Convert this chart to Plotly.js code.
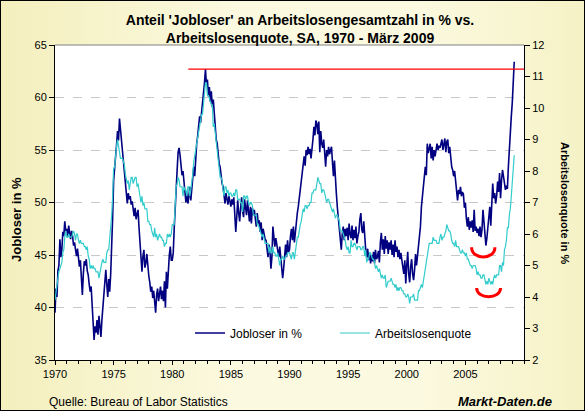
<!DOCTYPE html>
<html>
<head>
<meta charset="utf-8">
<script src="https://cdn.plot.ly/plotly-3.0.1.min.js"></script>
<style>
  html, body { margin: 0; padding: 0; background: #fff; }
  #wrap { position: relative; width: 585px; height: 411px;
          background: linear-gradient(90deg, #f4efbd 0%, #fbf9df 40%, #fbf9df 72%, #f6f2c6 100%); }
  #chart { position: absolute; left: 0; top: 0; width: 585px; height: 411px; }
  #frame { position: absolute; left: 0; top: 0; width: 585px; height: 411px;
           box-sizing: border-box; border: 1px solid #000; pointer-events: none; }
</style>
</head>
<body>
<div id="wrap"><div id="chart"></div><div id="frame"></div></div>
<script>
// Monthly series, January 1970 to March 2009 (seasonally adjusted)
const startYear = 1970;

// Share of job losers among all unemployed, in %
const jobloserPct = [
  39.5, 41.8, 41.0, 43.5, 44.0, 46.5, 44.8, 45.5, 47.2, 46.8, 48.2, 47.3, // 1970
  47.5, 46.7, 47.8, 47.0, 46.5, 47.3, 46.8, 45.9, 46.2, 45.5, 44.9, 45.6, // 1971
  44.8, 43.9, 44.5, 42.9, 41.2, 43.2, 44.4, 44.0, 44.6, 43.5, 43.1, 42.2, // 1972
  41.5, 42.0, 40.2, 39.2, 36.9, 38.2, 37.6, 38.8, 37.4, 39.2, 38.0, 37.2, // 1973
  38.8, 40.2, 41.2, 42.8, 43.6, 42.2, 41.0, 42.7, 41.5, 43.2, 45.5, 48.6, // 1974
  52.1, 53.6, 54.6, 55.5, 56.8, 55.9, 58.0, 57.0, 56.2, 55.6, 54.0, 52.9, // 1975
  52.0, 50.8, 49.9, 50.9, 50.3, 50.6, 49.8, 50.1, 49.2, 48.7, 49.5, 48.4, // 1976
  48.9, 49.3, 47.6, 46.2, 45.3, 43.4, 44.9, 45.5, 43.8, 44.2, 45.1, 43.6, // 1977
  43.0, 42.4, 41.5, 42.0, 40.9, 41.6, 40.8, 39.5, 41.2, 41.8, 40.6, 41.5, // 1978
  42.0, 40.8, 41.6, 40.6, 42.5, 40.0, 43.4, 41.8, 44.2, 45.0, 45.8, 44.5, // 1979
  44.5, 45.2, 47.5, 49.0, 51.2, 53.1, 54.8, 55.2, 54.5, 53.4, 52.6, 53.0, // 1980
  51.8, 50.8, 50.0, 51.0, 49.9, 50.6, 51.5, 50.2, 51.2, 52.2, 53.4, 52.5, // 1981
  54.4, 55.6, 56.3, 57.2, 58.2, 57.6, 58.4, 59.3, 60.2, 61.4, 62.7, 61.2, // 1982
  61.7, 60.1, 61.0, 59.6, 60.6, 59.1, 59.8, 58.2, 57.0, 56.0, 55.6, 54.2, // 1983
  53.7, 53.4, 52.2, 51.8, 51.5, 50.4, 49.9, 50.9, 50.2, 49.8, 50.6, 50.0, // 1984
  49.6, 50.3, 49.8, 50.5, 49.2, 47.2, 48.6, 50.2, 49.0, 48.2, 49.5, 50.5, // 1985
  49.2, 48.6, 50.3, 49.4, 48.8, 50.2, 49.0, 48.2, 49.6, 48.0, 49.5, 48.8, // 1986
  49.3, 48.4, 47.7, 49.0, 48.0, 48.3, 47.2, 48.1, 46.4, 47.5, 46.8, 46.5, // 1987
  46.4, 45.6, 44.8, 46.0, 45.3, 43.7, 44.8, 47.7, 46.3, 45.8, 46.6, 46.1, // 1988
  45.6, 44.8, 45.8, 44.9, 43.5, 42.8, 43.7, 45.2, 46.0, 44.8, 46.4, 45.3, // 1989
  45.5, 46.8, 47.5, 46.4, 47.7, 46.2, 47.4, 48.1, 49.0, 49.6, 50.4, 51.2, // 1990
  51.5, 52.5, 53.6, 54.4, 53.5, 55.0, 54.5, 55.3, 54.6, 55.1, 54.2, 55.6, // 1991
  56.0, 57.2, 56.4, 57.8, 57.5, 56.5, 57.7, 54.8, 56.8, 55.6, 55.2, 56.0, // 1992
  54.2, 53.4, 55.0, 54.4, 55.3, 54.6, 55.0, 55.3, 53.8, 52.5, 54.0, 51.8, // 1993
  50.8, 49.5, 48.3, 47.7, 46.2, 45.5, 47.0, 47.7, 46.4, 47.5, 46.8, 47.6, // 1994
  46.4, 48.0, 47.0, 46.6, 47.8, 46.4, 47.4, 46.6, 47.7, 46.1, 46.8, 47.2, // 1995
  48.4, 49.0, 47.4, 47.1, 48.2, 46.2, 45.5, 44.8, 45.6, 44.5, 45.2, 44.2, // 1996
  45.0, 44.4, 45.3, 44.2, 45.5, 44.6, 44.8, 45.4, 44.3, 46.2, 47.1, 45.5, // 1997
  46.5, 45.1, 46.8, 45.6, 46.4, 45.1, 46.2, 45.5, 46.4, 45.0, 46.0, 44.8, // 1998
  46.4, 45.3, 45.8, 44.8, 45.5, 44.6, 45.2, 44.5, 44.0, 43.2, 44.5, 42.3, // 1999
  44.0, 45.3, 43.2, 42.4, 43.9, 44.6, 43.2, 42.6, 43.6, 45.1, 44.0, 45.0, // 2000
  45.8, 46.8, 47.7, 49.6, 50.5, 51.2, 52.2, 53.4, 52.6, 55.6, 54.7, 55.3, // 2001
  55.6, 54.2, 55.3, 54.0, 55.0, 54.4, 55.3, 55.6, 55.0, 55.4, 55.2, 55.8, // 2002
  56.0, 55.0, 55.6, 56.1, 54.8, 55.8, 56.0, 54.7, 55.3, 54.0, 53.4, 53.1, // 2003
  52.5, 53.0, 52.1, 51.5, 50.2, 51.2, 50.8, 51.5, 50.6, 51.0, 50.8, 49.5, // 2004
  50.0, 48.5, 47.7, 48.6, 47.4, 48.2, 47.6, 48.3, 47.2, 49.3, 47.3, 47.7, // 2005
  47.1, 47.5, 46.8, 47.7, 46.7, 47.4, 49.3, 48.2, 47.0, 45.9, 46.6, 47.4, // 2006
  48.5, 49.6, 47.8, 50.0, 51.8, 50.4, 50.9, 49.9, 50.6, 52.0, 51.0, 52.8, // 2007
  50.4, 52.1, 53.1, 52.5, 51.8, 51.2, 51.6, 51.3, 53.4, 55.3, 56.5, 58.2, // 2008
  59.5, 61.2, 63.4                                                        // 2009
];

// Unemployment rate, in %
const arbeitslosenquote = [
  3.9, 4.2, 4.4, 4.6, 4.8, 4.9, 5.0, 5.1, 5.4, 5.5, 5.9, 6.1,   // 1970
  5.9, 5.9, 6.0, 5.9, 5.9, 5.9, 6.0, 6.1, 6.0, 5.8, 6.0, 6.0,   // 1971
  5.8, 5.7, 5.8, 5.7, 5.7, 5.7, 5.6, 5.6, 5.5, 5.6, 5.3, 5.2,   // 1972
  4.9, 5.0, 4.9, 5.0, 4.9, 4.9, 4.8, 4.8, 4.8, 4.6, 4.8, 4.9,   // 1973
  5.1, 5.2, 5.1, 5.1, 5.1, 5.4, 5.5, 5.5, 5.9, 6.0, 6.6, 7.2,   // 1974
  8.1, 8.1, 8.6, 8.8, 9.0, 8.8, 8.6, 8.4, 8.4, 8.4, 8.3, 8.2,   // 1975
  7.9, 7.7, 7.6, 7.7, 7.4, 7.6, 7.8, 7.8, 7.6, 7.7, 7.8, 7.8,   // 1976
  7.5, 7.6, 7.4, 7.2, 7.0, 7.2, 6.9, 7.0, 6.8, 6.8, 6.8, 6.4,   // 1977
  6.4, 6.3, 6.3, 6.1, 6.0, 5.9, 6.2, 5.9, 6.0, 5.8, 5.9, 6.0,   // 1978
  5.9, 5.9, 5.8, 5.8, 5.6, 5.7, 5.7, 6.0, 5.9, 6.0, 5.9, 6.0,   // 1979
  6.3, 6.3, 6.3, 6.9, 7.5, 7.6, 7.8, 7.7, 7.5, 7.5, 7.5, 7.2,   // 1980
  7.5, 7.4, 7.4, 7.2, 7.5, 7.5, 7.2, 7.4, 7.6, 7.9, 8.3, 8.5,   // 1981
  8.6, 8.9, 9.0, 9.3, 9.4, 9.6, 9.8, 9.8, 10.1, 10.4, 10.8, 10.8, // 1982
  10.4, 10.4, 10.3, 10.2, 10.1, 10.1, 9.4, 9.5, 9.2, 8.8, 8.5, 8.3, // 1983
  8.0, 7.8, 7.8, 7.7, 7.4, 7.2, 7.5, 7.5, 7.3, 7.4, 7.2, 7.3,   // 1984
  7.3, 7.2, 7.2, 7.3, 7.2, 7.4, 7.4, 7.1, 7.1, 7.1, 7.0, 7.0,   // 1985
  6.7, 7.2, 7.2, 7.1, 7.2, 7.2, 7.0, 6.9, 7.0, 7.0, 6.9, 6.6,   // 1986
  6.6, 6.6, 6.6, 6.3, 6.3, 6.2, 6.1, 6.0, 5.9, 6.0, 5.8, 5.7,   // 1987
  5.7, 5.7, 5.7, 5.4, 5.6, 5.4, 5.4, 5.6, 5.4, 5.4, 5.3, 5.3,   // 1988
  5.4, 5.2, 5.0, 5.2, 5.2, 5.3, 5.2, 5.2, 5.3, 5.3, 5.4, 5.4,   // 1989
  5.4, 5.3, 5.2, 5.4, 5.4, 5.2, 5.5, 5.7, 5.9, 5.9, 6.2, 6.3,   // 1990
  6.4, 6.6, 6.8, 6.7, 6.9, 6.9, 6.8, 6.9, 6.9, 7.0, 7.0, 7.3,   // 1991
  7.3, 7.4, 7.4, 7.4, 7.6, 7.8, 7.7, 7.6, 7.6, 7.3, 7.4, 7.4,   // 1992
  7.3, 7.1, 7.0, 7.1, 7.1, 7.0, 6.9, 6.8, 6.7, 6.8, 6.6, 6.5,   // 1993
  6.6, 6.6, 6.5, 6.4, 6.1, 6.1, 6.1, 6.0, 5.9, 5.8, 5.6, 5.5,   // 1994
  5.6, 5.4, 5.4, 5.8, 5.6, 5.6, 5.7, 5.7, 5.6, 5.5, 5.6, 5.6,   // 1995
  5.6, 5.5, 5.5, 5.6, 5.6, 5.3, 5.5, 5.1, 5.2, 5.2, 5.4, 5.4,   // 1996
  5.3, 5.2, 5.2, 5.1, 4.9, 5.0, 4.9, 4.8, 4.9, 4.7, 4.6, 4.7,   // 1997
  4.6, 4.6, 4.7, 4.3, 4.4, 4.5, 4.5, 4.5, 4.6, 4.5, 4.4, 4.4,   // 1998
  4.3, 4.4, 4.2, 4.3, 4.2, 4.3, 4.3, 4.2, 4.2, 4.1, 4.1, 4.0,   // 1999
  4.0, 4.1, 4.0, 3.8, 4.0, 4.0, 4.0, 4.1, 3.9, 3.9, 3.9, 3.9,   // 2000
  4.2, 4.2, 4.3, 4.4, 4.3, 4.5, 4.6, 4.9, 5.0, 5.3, 5.5, 5.7,   // 2001
  5.7, 5.7, 5.7, 5.9, 5.8, 5.8, 5.8, 5.7, 5.7, 5.7, 5.9, 6.0,   // 2002
  5.8, 5.9, 5.9, 6.0, 6.1, 6.3, 6.2, 6.1, 6.1, 6.0, 5.8, 5.7,   // 2003
  5.7, 5.6, 5.8, 5.6, 5.6, 5.6, 5.5, 5.4, 5.4, 5.5, 5.4, 5.4,   // 2004
  5.3, 5.4, 5.2, 5.2, 5.1, 5.0, 5.0, 4.9, 5.0, 5.0, 5.0, 4.9,   // 2005
  4.7, 4.8, 4.7, 4.7, 4.6, 4.6, 4.7, 4.7, 4.5, 4.4, 4.5, 4.4,   // 2006
  4.6, 4.5, 4.4, 4.5, 4.4, 4.6, 4.7, 4.6, 4.7, 4.7, 4.7, 5.0,   // 2007
  5.0, 4.8, 5.1, 5.0, 5.5, 5.6, 5.8, 6.2, 6.2, 6.6, 6.8, 7.2,   // 2008
  7.6, 8.1, 8.5                                                 // 2009
];

// Axis tick labels
const xTickYears = [1970, 1975, 1980, 1985, 1990, 1995, 2000, 2005];
const seriesNames = ['Jobloser in %', 'Arbeitslosenquote'];

// Month positions on a decimal-year axis
const months = jobloserPct.map((_, i) => startYear + i / 12);

// Reference level: the 1982 peak of the job-loser share, carried forward
const peakIdx = jobloserPct.indexOf(Math.max(...jobloserPct.slice(0, 14 * 12)));
const peakLevel = jobloserPct[peakIdx];

const FONT = 'Arial, "Liberation Sans", sans-serif';

const traces = [
  {
    x: months, y: jobloserPct, name: seriesNames[0], type: 'scatter', mode: 'lines',
    line: { color: '#000080', width: 1.6 }, yaxis: 'y', legend: 'legend',
    hoverinfo: 'skip'
  },
  {
    x: months, y: arbeitslosenquote, name: seriesNames[1], type: 'scatter', mode: 'lines',
    line: { color: '#33cccc', width: 1.2 }, yaxis: 'y2', legend: 'legend2',
    hoverinfo: 'skip'
  }
];

// Curved markers under the 2006/07 lows
function arc(x0, x1, yTop, yCtrl) {
  return `M${x0},${yTop} C${x0},${yCtrl} ${x1},${yCtrl} ${x1},${yTop}`;
}

const layout = {
  width: 585, height: 411,
  margin: { l: 55, r: 61, t: 45, b: 51 },
  paper_bgcolor: 'rgba(0,0,0,0)',
  plot_bgcolor: '#ffffff',
  showlegend: true,
  font: { family: FONT, size: 11, color: '#000' },
  title: {
    text: "<b>Anteil 'Jobloser' an Arbeitslosengesamtzahl in % vs.<br>Arbeitslosenquote, SA, 1970 - März 2009</b>",
    font: { family: FONT, size: 14, color: '#000' },
    x: 300 / 585, xanchor: 'center', xref: 'container',
    y: 1 - 25 / 411, yanchor: 'middle', yref: 'container'
  },
  xaxis: {
    range: [1970, 2010], tickvals: xTickYears, ticktext: xTickYears.map(String),
    ticks: 'outside', ticklen: 4, tickcolor: '#000', tickwidth: 1,
    minor: { dtick: 1, tick0: 1970, ticks: 'outside', ticklen: 3, tickcolor: '#000', showgrid: false },
    showline: true, linecolor: '#000', linewidth: 1, showgrid: false, zeroline: false,
    tickfont: { family: FONT, size: 11, color: '#000' }, fixedrange: true
  },
  yaxis: {
    range: [35, 65], tick0: 35, dtick: 5, ticks: 'outside', ticklen: 5, tickcolor: '#000',
    showline: true, linecolor: '#000', linewidth: 1, zeroline: false,
    showgrid: true, gridcolor: '#c8c8c8', griddash: 'dash', gridwidth: 1,
    tickfont: { family: FONT, size: 11, color: '#000' }, fixedrange: true
  },
  yaxis2: {
    range: [2, 12], tick0: 2, dtick: 1, overlaying: 'y', side: 'right',
    ticks: 'outside', ticklen: 5, tickcolor: '#000',
    showline: true, linecolor: '#000', linewidth: 1, zeroline: false, showgrid: false,
    tickfont: { family: FONT, size: 11, color: '#000' }, fixedrange: true
  },
  legend: {
    orientation: 'h', x: (190 - 55) / 469, xanchor: 'left', y: (360 - 333) / 315, yanchor: 'middle',
    bgcolor: 'rgba(0,0,0,0)', font: { family: FONT, size: 12, color: '#000' }
  },
  legend2: {
    orientation: 'h', x: (335 - 55) / 469, xanchor: 'left', y: (360 - 333) / 315, yanchor: 'middle',
    bgcolor: 'rgba(0,0,0,0)', font: { family: FONT, size: 12, color: '#000' }
  },
  shapes: [
    // grey frame along the top of the plot area
    { type: 'line', xref: 'paper', yref: 'paper', x0: 0, x1: 1, y0: 1, y1: 1,
      line: { color: '#808080', width: 1 } },
    // horizontal reference line at the 1982 peak
    { type: 'line', xref: 'x', yref: 'y', x0: 1981.37, x1: 2010, y0: peakLevel, y1: peakLevel,
      line: { color: '#ff0000', width: 1.3 } },
    // red arcs highlighting the 2006/07 troughs
    { type: 'path', xref: 'x', yref: 'y', path: arc(2005.53, 2007.52, 45.75, 44.5),
      line: { color: '#ff0000', width: 3 } },
    { type: 'path', xref: 'x', yref: 'y', path: arc(2005.96, 2008.0, 41.85, 40.75),
      line: { color: '#ff0000', width: 3 } }
  ],
  annotations: [
    { text: '<b>Jobloser in %</b>', textangle: -90, xref: 'paper', yref: 'paper',
      x: (16 - 55) / 469, y: (360 - 220) / 315, xanchor: 'center', yanchor: 'middle',
      showarrow: false, font: { family: FONT, size: 13, color: '#000' } },
    { text: '<b>Arbeitslosenquote in %</b>', textangle: 90, xref: 'paper', yref: 'paper',
      x: (565 - 55) / 469, y: (360 - 203) / 315, xanchor: 'center', yanchor: 'middle',
      showarrow: false, font: { family: FONT, size: 11, color: '#000' } },
    { text: 'Quelle: Bureau of Labor Statistics', xref: 'paper', yref: 'paper',
      x: (47 - 55) / 469, y: (360 - 401.5) / 315, xanchor: 'left', yanchor: 'middle',
      showarrow: false, font: { family: FONT, size: 12, color: '#000' } },
    { text: '<b><i>Markt-Daten.de</i></b>', xref: 'paper', yref: 'paper',
      x: (504.5 - 55) / 469, y: (360 - 401.5) / 315, xanchor: 'center', yanchor: 'middle',
      showarrow: false, font: { family: FONT, size: 13, color: '#000' } }
  ]
};

Plotly.newPlot('chart', traces, layout, { displayModeBar: false, staticPlot: true });
</script>
</body>
</html>
